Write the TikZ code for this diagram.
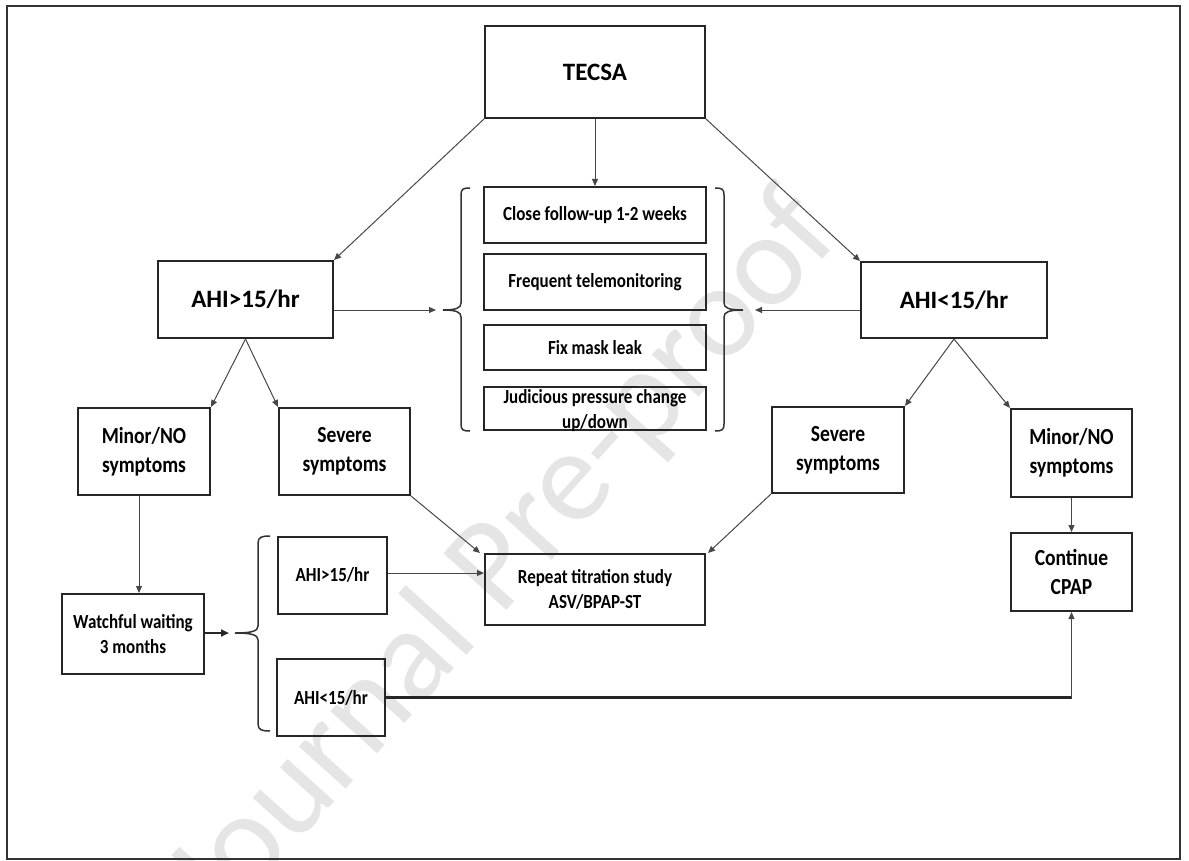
\documentclass[tikz,border=0pt]{standalone}
\usepackage{fontspec}
\setmainfont{Carlito}[FakeStretch=0.85]
\newfontfamily\widefnt{Carlito}
\usetikzlibrary{arrows.meta,calc}
\begin{document}
\begin{tikzpicture}[x=1pt,y=-1pt,
  box/.style={draw=black!85, line width=2pt, inner sep=0pt, align=center},
  bigtxt/.style={font=\widefnt\bfseries\fontsize{25}{30}\selectfont},
  midtxt/.style={font=\bfseries\fontsize{20}{25}\selectfont},
  lrgtxt/.style={font=\bfseries\fontsize{23}{29}\selectfont},
  conn/.style={draw=black!72, line width=1pt, -{Triangle[length=7pt,width=6pt]}},
  heavy/.style={draw=black!85, line width=2pt, -{Triangle[length=8pt,width=7pt]}},
  brc/.style={draw=black!80, line width=1.5pt},
  wm/.style={font=\widefnt\fontsize{132}{132}\selectfont, text=black!10, rotate=48, inner sep=0pt}
]
\useasboundingbox (0,0) rectangle (1189,861);
\begin{scope}
  \clip (0,0) rectangle (1189,861);
  \node[wm] (wmark) at (505,560) {Journal Pre-proof};
\end{scope}
% outer frame
\draw[draw=black!80, line width=2.2pt] (7,6) rectangle (1180,859);

% top
\node[box, bigtxt, minimum width=220pt, minimum height=92pt] (tecsa) at (595,72) {TECSA};

% middle stack
\node[box, midtxt, minimum width=222pt, minimum height=56pt] (m1) at (595,215) {Close follow-up 1-2 weeks};
\node[box, midtxt, minimum width=222pt, minimum height=56pt] (m2) at (595,282) {Frequent telemonitoring};
\node[box, midtxt, minimum width=222pt, minimum height=45pt] (m3) at (595,347.5) {Fix mask leak};
\node[box, minimum width=222pt, minimum height=43pt] (m4) at (595,408.5) {};
\node[midtxt, align=center, inner sep=0pt] (m4t) at (595,411) {Judicious pressure change\\up/down};

% AHI level 1
\node[box, bigtxt, minimum width=175pt, minimum height=77pt] (hi) at (245.5,299.5) {AHI>15/hr};
\node[box, bigtxt, minimum width=186pt, minimum height=76pt] (lo) at (954,300) {AHI<15/hr};

% symptoms
\node[box, lrgtxt, minimum width=132pt, minimum height=87pt] (minL) at (144,451.5) {Minor/NO\\symptoms};
\node[box, lrgtxt, minimum width=131pt, minimum height=87pt] (sevL) at (344.5,451.5) {Severe\\symptoms};
\node[box, lrgtxt, minimum width=132pt, minimum height=86pt] (sevR) at (838,450) {Severe\\symptoms};
\node[box, lrgtxt, minimum width=121pt, minimum height=88pt] (minR) at (1071.5,453) {Minor/NO\\symptoms};

% lower
\node[box, midtxt, minimum width=142pt, minimum height=80pt] (wait) at (133,634) {Watchful waiting\\3 months};
\node[box, midtxt, minimum width=109pt, minimum height=77pt] (ahiS) at (332.5,575) {AHI>15/hr};
\node[box, midtxt, minimum width=108pt, minimum height=77pt] (ahiL) at (331,697.5) {AHI<15/hr};
\node[box, midtxt, minimum width=220pt, minimum height=71pt] (rep) at (595,589.5) {Repeat titration study\\ASV/BPAP-ST};
\node[box, lrgtxt, minimum width=121pt, minimum height=78pt] (cont) at (1071.5,572) {Continue\\CPAP};

% brace tips
\coordinate (lbtip) at (443,310);
\coordinate (rbtip) at (743,310);
\coordinate (bbtip) at (235,633);

% braces
\draw[brc] (470,188) .. controls (463,188) and (461,189) .. (461,195) -- (461,303)
  .. controls (461,308) and (456,310) .. (lbtip)
  .. controls (456,310) and (461,312) .. (461,317) -- (461,424)
  .. controls (461,430) and (463,431) .. (470,431);
\draw[brc] (715,188) .. controls (722,188) and (724,189) .. (724,195) -- (724,303)
  .. controls (724,308) and (729,310) .. (rbtip)
  .. controls (729,310) and (724,312) .. (724,317) -- (724,424)
  .. controls (724,430) and (722,431) .. (715,431);
\draw[brc] (270,536) .. controls (262,536) and (258,537) .. (258,543) -- (258,626)
  .. controls (258,631) and (252,633) .. (bbtip)
  .. controls (252,633) and (258,635) .. (258,640) -- (258,724)
  .. controls (258,730) and (262,731) .. (270,731);

% connectors
\draw[conn] (tecsa.south) -- (m1.north);
\draw[conn] (tecsa.south west) -- (hi.north east);
\draw[conn] (tecsa.south east) -- (lo.north west);
\draw[conn] (hi.east |- lbtip) -- ([xshift=-7pt]lbtip);
\draw[conn] (lo.west |- rbtip) -- ([xshift=12pt]rbtip);
\draw[conn] (hi.south) -- (minL.north east);
\draw[conn] (hi.south) -- (sevL.north west);
\draw[conn] (lo.south) -- (sevR.north east);
\draw[conn] (lo.south) -- (minR.north west);
\draw[conn] ([xshift=-5pt]minL.south) -- ([xshift=-5pt]minL.south |- wait.north);
\draw[heavy] (wait.east |- bbtip) -- ([xshift=-6pt]bbtip);
\draw[conn] (sevL.south east) -- ([xshift=-4pt]rep.north west);
\draw[conn] (sevR.south west) -- ([xshift=2pt]rep.north east);
\draw[conn] ([yshift=2pt]ahiS.east) -- ([yshift=2pt]ahiS.east -| rep.west);
\draw[conn] (minR.south) -- (cont.north);
\coordinate (corner) at (ahiL.east -| cont.south);
\draw[draw=black!85, line width=2.2pt] (ahiL.east) -- (corner);
\draw[conn] (corner) -- (cont.south);
\end{tikzpicture}
\end{document}
